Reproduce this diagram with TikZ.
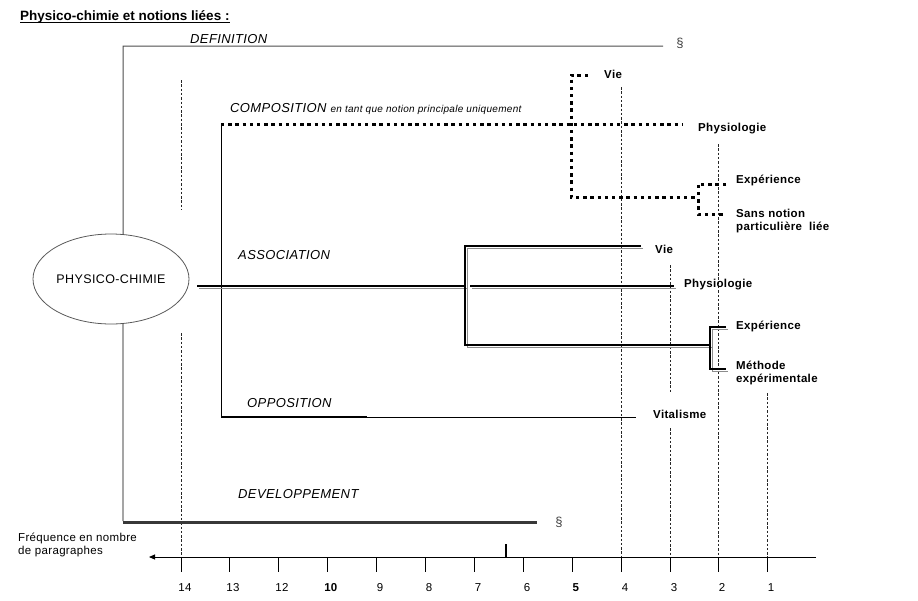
\documentclass[tikz,border=0pt]{standalone}
\usepackage{fontspec}
\setmainfont{Liberation Sans}[LetterSpace=3]
\newfontfamily\titlefont{Liberation Sans}
\usetikzlibrary{shapes.geometric,arrows.meta}
\begin{document}
\begin{tikzpicture}[x=1pt,y=-1pt,
  lbl/.style={inner sep=0pt, anchor=base west, font=\fontsize{11.5}{13}\selectfont\bfseries},
  lbltwo/.style={inner sep=0pt, anchor=north west, align=left, font=\fontsize{11.5}{13}\selectfont\bfseries},
  cat/.style={inner sep=0pt, anchor=base west, font=\fontsize{13}{15}\selectfont\itshape},
  guide/.style={dash pattern=on 2.5pt off 1.8pt, line width=0.7pt, black!85},
  thinl/.style={line width=0.9pt, black},
  dotline/.style={line width=3pt, dash pattern=on 3.4pt off 3.8pt},
  dbl/.style={line width=1.6pt, preaction={draw=black!45, line width=1pt, transform canvas={shift={(2pt,-2pt)}}}},
  num/.style={inner sep=0pt, anchor=base, font=\fontsize{11.5}{13}\selectfont},
  para/.style={inner sep=0pt, font=\fontsize{13}{15}\selectfont, text=black!75},
]
\useasboundingbox (0,0) rectangle (918,600);

% title
\node[inner sep=0pt, anchor=base west, font=\titlefont\fontsize{13.5}{16}\selectfont\bfseries] (title) at (20,20) {Physico-chimie et notions liées :};
\draw[line width=1pt] ([yshift=-2.2pt]title.base west) -- ([yshift=-2.2pt]title.base east);

% frequency guides
\draw[guide] (181,80) -- (181,210);
\draw[guide] (181,333) -- (181,557);
\draw[guide] (621,87) -- (621,557);
\draw[guide] (670,265) -- (670,393);
\draw[guide] (670,428) -- (670,557);
\draw[guide] (718,144) -- (718,557);
\draw[guide] (767,393) -- (767,557);

% central node
\node[ellipse, draw=black!65, line width=0.8pt, minimum width=156pt, minimum height=90pt, inner sep=0pt, font=\fontsize{12.5}{14}\selectfont] (pc) at (111,279) {PHYSICO-CHIMIE};

% DEFINITION
\coordinate (d0) at (123,46);
\coordinate (d1) at (663,46);
\draw[line width=1pt, black!70] (pc.75) -- (d0) -- (d1);
\node[para] (s1) at (680,43) {§};
\node[cat] (def) at (190,43) {DEFINITION};

% DEVELOPPEMENT
\coordinate (v0) at (123,521);
\coordinate (v1) at (123,522);
\coordinate (v2) at (537,522);
\draw[thinl] (pc.-75) -- (v0);
\draw[line width=3pt, black!78] (v1) -- (v2);
\node[para] (s2) at (559,522) {§};
\node[cat] (dev) at (238,498) {DEVELOPPEMENT};

% COMPOSITION
\coordinate (c0) at (221,124);
\coordinate (c1) at (683,124);
\coordinate (o0) at (221,417);
\coordinate (o1) at (367,417);
\coordinate (o2) at (636,417);
\draw[thinl] (c0) -- (o0);
\draw[dotline] (c0) -- (c1);
\node[cat] (comp) at (230,112) {COMPOSITION {\fontsize{10}{11}\selectfont en tant que notion principale uniquement}};

\coordinate (cvie) at (588,75);
\coordinate (cv0) at (571,75);
\coordinate (cv1) at (571,197);
\coordinate (cb0) at (698,197);
\coordinate (cb1) at (698,184);
\coordinate (cb2) at (698,214);
\coordinate (cexp) at (726,184);
\coordinate (csans) at (726,214);
\draw[dotline] (cvie) -- (cv0) -- (cv1) -- (cb0);
\draw[dotline] (cexp) -- (cb1) -- (cb2) -- (csans);

\node[lbl] (cVie) at (604,78) {Vie};
\node[lbl] (cPhys) at (698,131) {Physiologie};
\node[lbl] (cExp) at (736,183) {Expérience};
\node[lbltwo] (cSans) at (736,209) {Sans notion\\particulière\ \ liée};

% OPPOSITION
\draw[line width=2.3pt] (o0) -- (o1);
\draw[thinl] (o1) -- (o2);
\node[cat] (opp) at (247,407) {OPPOSITION};
\node[lbl] (vit) at (653,418) {Vitalisme};

% ASSOCIATION
\coordinate (a0) at (197,286);
\coordinate (a1) at (465,286);
\coordinate (av0) at (465,246);
\coordinate (av1) at (465,345);
\coordinate (avie) at (641,246);
\coordinate (ap0) at (470,286);
\coordinate (ap1) at (674,286);
\coordinate (ab0) at (710,345);
\coordinate (ab1) at (710,327);
\coordinate (ab2) at (710,369);
\coordinate (ae) at (726,327);
\coordinate (am) at (726,369);
\draw[dbl] (a0) -- (a1);
\draw[dbl] (avie) -- (av0) -- (av1) -- (ab0);
\draw[dbl] (ap0) -- (ap1);
\draw[dbl] (ae) -- (ab1) -- (ab2) -- (am);
\node[cat] (assoc) at (238,259) {ASSOCIATION};
\node[lbl] (aVie) at (655,253) {Vie};
\node[lbl] (aPhys) at (684,287) {Physiologie};
\node[lbl] (aExp) at (736,329) {Expérience};
\node[lbltwo] (aMeth) at (736,361) {Méthode\\expérimentale};

% axis
\coordinate (axR) at (816,557);
\coordinate (axL) at (149,557);
\draw[thinl, -{Triangle[length=6pt,width=5pt]}] (axR) -- (axL);
\foreach \x/\l in {181/14,229/13,278/12,327/\textbf{10},376/9,425/8,474/7,523/6,572/\textbf{5},621/4,670/3,718/2,767/1} {
  \draw[thinl] (\x,557) -- (\x,572);
  \node[num] (t\x) at (\x+4,591) {\l};
}
\coordinate (m0) at (506,544);
\coordinate (m1) at (506,557);
\draw[line width=1.6pt] (m0) -- (m1);
\node[inner sep=0pt, anchor=north west, align=left, font=\fontsize{11.5}{13}\selectfont] (freq) at (18,533) {Fréquence en nombre\\de paragraphes};

\end{tikzpicture}
\end{document}
